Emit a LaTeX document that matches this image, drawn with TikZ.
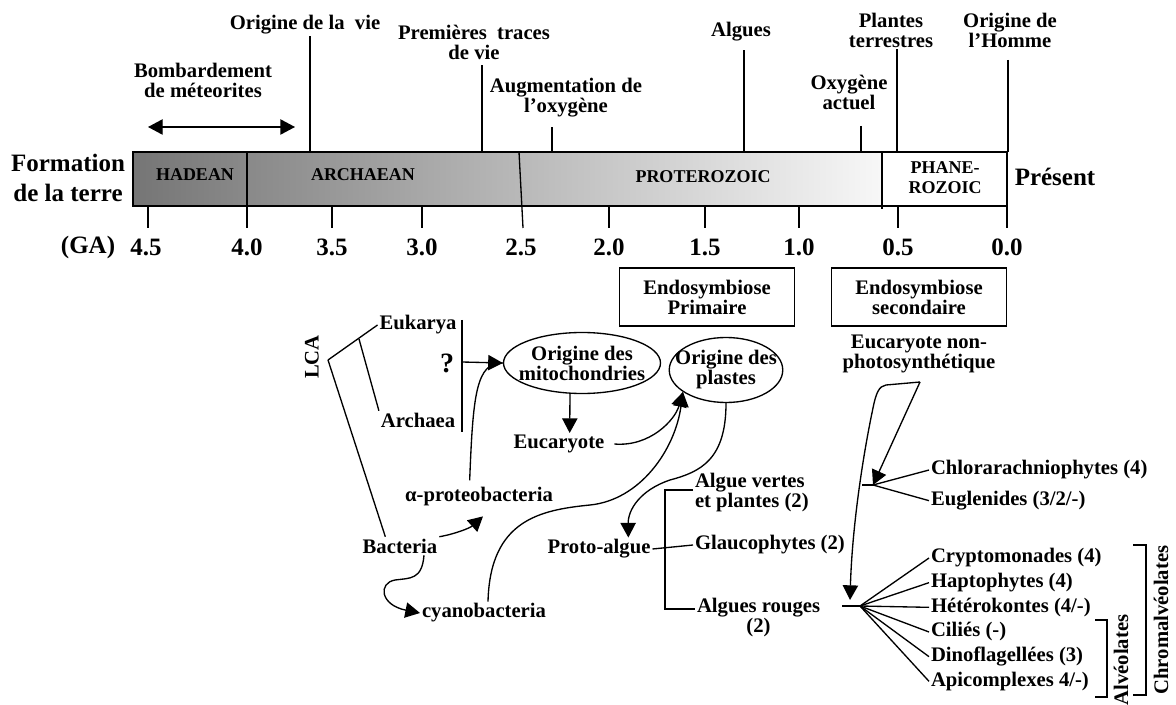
\documentclass[tikz,border=0pt]{standalone}
\usepackage{fontspec}
\setmainfont{Liberation Serif}
\usetikzlibrary{positioning,shapes.geometric,arrows.meta}

\begin{document}
\begin{tikzpicture}[x=0.75pt,y=-0.75pt,line width=1pt,>={Triangle[length=11pt,width=11.5pt]}]
	\tikzstyle{lbl}=[font=\bfseries\fontsize{15.5}{15}\selectfont, align=center, inner sep=1pt]
	\tikzstyle{big}=[font=\bfseries\fontsize{18.75}{22.5}\selectfont, align=center, inner sep=1pt]
	\tikzstyle{era}=[font=\bfseries\fontsize{13.5}{15}\selectfont, align=center, inner sep=1pt]
	\tikzstyle{box}=[lbl, draw, minimum width=131.25pt, minimum height=43.5pt]
	\tikzstyle{bulle}=[lbl, draw, ellipse, inner xsep=-8pt, inner ysep=0pt]
	\useasboundingbox (0,0) rectangle (1176,705);
	% echelle des temps
		\shade[left color=black!54, right color=black!3] (133,152) rectangle (882,206);
		\draw[line width=1.2pt] (133,152) rectangle (1007,206);
		\draw (247,152) -- (247,228);
		\draw (519,152) -- (523,228);
		\draw (882,152) -- (882,209);
		\draw (148,206) -- (148,228);
		\draw (332,206) -- (332,228);
		\draw (422,206) -- (422,228);
		\draw (609,206) -- (609,228);
		\draw (705,206) -- (705,228);
		\draw (799,206) -- (799,228);
		\draw (898,206) -- (898,228);
		\draw (1007,206) -- (1007,228);
		\node[era] (hadean) at (195,175) {HADEAN};
		\node[era] (archaean) at (363,175) {ARCHAEAN};
		\node[era] (proterozoic) at (703,177) {PROTEROZOIC};
		\node[era] (phanerozoic) at (945,178) {PHANE-\\ROZOIC};
		\node[big] (formation) at (68,178) {Formation\\de la terre};
		\node[big] (present) at (1055,177) {Présent};
		\node[big] (ga) at (88,247) {(GA)};
		\node[big] (t1) at (146,247) {4.5};
		\node[big] (t2) at (247,247) {4.0};
		\node[big] (t3) at (332,247) {3.5};
		\node[big] (t4) at (422,247) {3.0};
		\node[big] (t5) at (521,247) {2.5};
		\node[big] (t6) at (609,247) {2.0};
		\node[big] (t7) at (705,247) {1.5};
		\node[big] (t8) at (799,247) {1.0};
		\node[big] (t9) at (898,247) {0.5};
		\node[big] (t10) at (1007,247) {0.0};
	% evenements
		\node[lbl] (bomb) at (203,80) {Bombardement\\de méteorites};
		\coordinate (m1) at (148,127);
		\coordinate (m2) at (295,127);
		\draw[<->] (m1) -- (m2);
		\node[lbl] (vie) at (305,25) {Origine de la\ \ vie};
		\node[lbl] (traces) at (474,42) {Premières\ \ traces\\de vie};
		\node[lbl] (augm) at (566,98) {Augmentation de\\l’oxygène};
		\node[lbl] (algues) at (741,32) {Algues};
		\node[lbl] (oxyact) at (849,92) {Oxygène\\actuel};
		\node[lbl] (plantes) at (891,30) {Plantes\\terrestres};
		\node[lbl] (homme) at (1010,30) {Origine de\\l’Homme};
		\coordinate (tvie) at (310,152);
		\coordinate (ttraces) at (482,152);
		\coordinate (taugm) at (552,152);
		\coordinate (talgues) at (744,152);
		\coordinate (toxy) at (861,152);
		\coordinate (tplantes) at (897,152);
		\coordinate (thomme) at (1008,152);
		\draw (vie.south -| tvie) -- (tvie);
		\draw ([yshift=-3pt]traces.south -| ttraces) -- (ttraces);
		\draw ([yshift=-6pt]augm.south -| taugm) -- (taugm);
		\draw ([yshift=-5pt]algues.south -| talgues) -- (talgues);
		\draw ([yshift=-11pt]oxyact.south -| toxy) -- (toxy);
		\draw (plantes.south -| tplantes) -- (tplantes);
		\draw ([yshift=-8pt]homme.south -| thomme) -- (thomme);
	% endosymbioses
		\node[box] (prim) at (707,297) {Endosymbiose\\Primaire};
		\node[box] (sec) at (919,297) {Endosymbiose\\secondaire};
	% arbre
		\node[lbl, rotate=90] (lcatxt) at (312,357) {LCA};
		\coordinate (lca) at (328,360);
		\node[lbl] (euk) at (418,325) {Eukarya};
		\node[lbl] (arch) at (418,420) {Archaea};
		\node[lbl] (bact) at (400,546) {Bacteria};
		\coordinate (ea) at (359,339);
		\draw (lca) -- (euk.west);
		\draw (ea) -- (arch.north west);
		\draw (lca) -- ([xshift=-11pt]bact.north);
		\node[font=\bfseries\fontsize{21}{21}\selectfont] (q) at (447,363) {?};
		\coordinate (qb) at (462,362);
		\draw (462,320) -- (462,432);
		\node[bulle, minimum width=117.75pt, minimum height=45.75pt] (mito) at (582,363) {Origine des\\mitochondries};
		\node[bulle, minimum width=84.75pt, minimum height=48.75pt] (plastes) at (726,370) {Origine des\\plastes};
		\node[lbl] (euc) at (559,444) {Eucaryote};
		\node[lbl] (alpha) at (479,497) {α-proteobacteria};
		\node[lbl] (cyano) at (484,613) {cyanobacteria};
		\node[lbl] (proto) at (599,549) {Proto-algue};
			\draw[->] (qb) -- (mito.west);
			\draw ([xshift=-7pt,yshift=4pt]alpha.north) .. controls (473,395) and (476,362) .. (mito.west);
			\draw[->] ([xshift=-9pt]mito.south) -- ([xshift=8pt]euc.north);
			\draw[->] (bact.north east) .. controls (455,534) and (470,528) .. ([xshift=3pt,yshift=-6pt]alpha.south);
			\draw[->] ([xshift=18pt]bact.south) .. controls (422,580) and (410,578) .. (395,580) .. controls (378,583) and (380,605) .. (cyano.west);
			\draw[->] ([xshift=3pt]cyano.north) .. controls (490,520) and (540,510) .. (590,505) .. controls (640,500) and (675,450) .. (plastes.207);
			\draw[->] ([xshift=6pt]euc.east) .. controls (650,447) and (675,420) .. (plastes.207);
			\draw[->] (plastes.south) .. controls (726,460) and (700,472) .. (670,480) .. controls (640,490) and (628,510) .. ([xshift=22pt]proto.north);
	% algues
		\node[lbl, anchor=west, align=left] (vertes) at (693,493) {Algue vertes\\et plantes (2)};
		\node[lbl, anchor=west] (glauco) at (693,545) {Glaucophytes (2)};
		\node[lbl, anchor=north west] (rouges) at (695,596) {Algues rouges\\(2)};
		\coordinate (bv) at (665,490);
		\coordinate (br) at (665,609);
			\draw (proto.east) -- (glauco.west);
			\draw (vertes.west |- bv) -- (bv) -- (br) -- (rouges.north west |- br);
	% endosymbiose secondaire
		\node[lbl] (nonphoto) at (919,354) {Eucaryote non-\\photosynthétique};
		\coordinate (w2) at (920,382);
		\coordinate (w1) at (886,385);
		\coordinate (f1) at (873,485);
		\coordinate (f1a) at (862,485);
		\coordinate (f2) at (860,606);
		\coordinate (f2a) at (842,606);
		\coordinate (tip2) at (850,600);
		\node[lbl, anchor=west] (chloro) at (929,470) {Chlorarachniophytes (4)};
		\node[lbl] (eugl) [below=23pt of chloro.west, anchor=west] {Euglenides (3/2/-)};
		\node[lbl, anchor=west] (crypto) at (929,558) {Cryptomonades (4)};
		\node[lbl] (hapto) [below=18.5pt of crypto.west, anchor=west] {Haptophytes (4)};
		\node[lbl] (hetero) [below=18.5pt of hapto.west, anchor=west] {Hétérokontes (4/-)};
		\node[lbl] (cilies) [below=18.5pt of hetero.west, anchor=west] {Ciliés (-)};
		\node[lbl] (dino) [below=18.5pt of cilies.west, anchor=west] {Dinoflagellées (3)};
		\node[lbl] (api) [below=18.5pt of dino.west, anchor=west] {Apicomplexes 4/-)};
			\draw[->] (w2) -- (f1);
			\draw[->] (w2) -- (w1) .. controls (879,386) and (876,393) .. (873,408) .. controls (862,460) and (852,530) .. (tip2);
			\draw (f1a) -- (f1);
			\draw (f1) -- (chloro.west);
			\draw (f1) -- (eugl.west);
			\draw (f2a) -- (f2);
			\draw (f2) -- (crypto.west);
			\draw (f2) -- (hapto.west);
			\draw (f2) -- (hetero.west);
			\draw (f2) -- (cilies.west);
			\draw (f2) -- (dino.west);
			\draw (f2) -- (api.west);
		\draw (1095,620) -- (1107,620) -- (1107,697) -- (1095,697);
		\node[lbl, rotate=90] (alv) at (1121,660) {Alvéolates};
		\draw (1133,545) -- (1146,545) -- (1146,695) -- (1133,695);
		\node[lbl, rotate=90] (chromalv) at (1161,620) {Chromalvéolates};
\end{tikzpicture}
\end{document}
